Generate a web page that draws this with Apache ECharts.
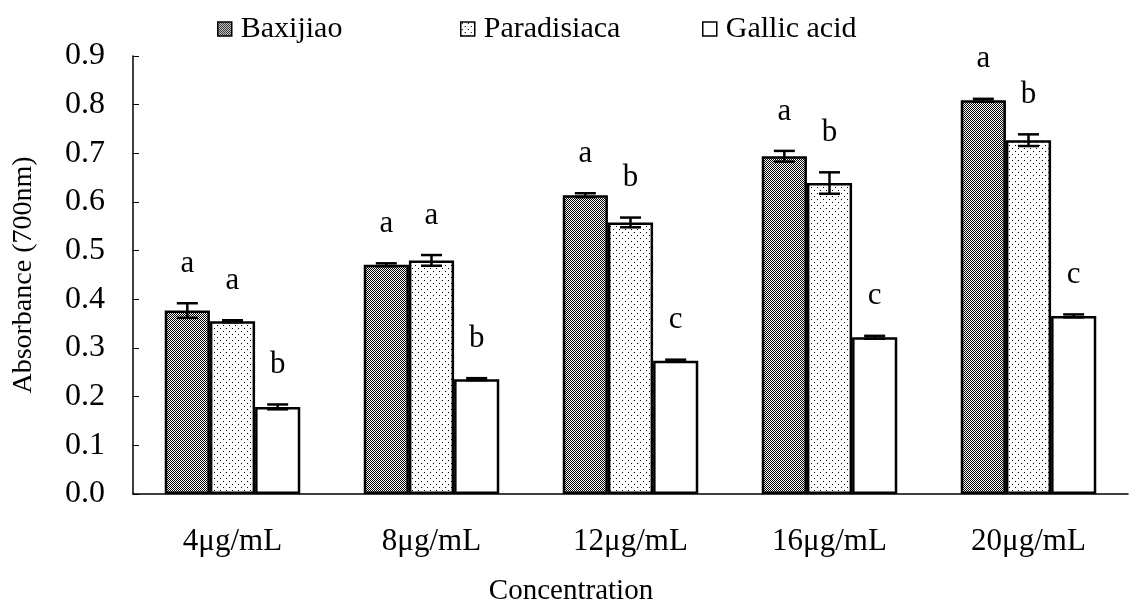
<!DOCTYPE html>
<html><head><meta charset="utf-8">
<script src="https://cdn.jsdelivr.net/npm/echarts@6/dist/echarts.min.js"></script>
<style>html,body{margin:0;padding:0;background:#fff}#c{width:1140px;height:607px}</style>
</head><body><div id="c"></div>
<script>
const categories = ['4μg/mL', '8μg/mL', '12μg/mL', '16μg/mL', '20μg/mL'];
const seriesNames = ['Baxijiao', 'Paradisiaca', 'Gallic acid'];
const baxijiao = [0.377, 0.471, 0.614, 0.694, 0.809];
const baxijiaoErr = [0.015, 0.003, 0.004, 0.011, 0.003];
const paradisiaca = [0.355, 0.480, 0.558, 0.639, 0.727];
const paradisiacaErr = [0.002, 0.011, 0.010, 0.022, 0.012];
const gallic = [0.179, 0.236, 0.274, 0.322, 0.366];
const gallicErr = [0.005, 0.002, 0.002, 0.003, 0.003];
const baxijiaoLetters = ['a', 'a', 'a', 'a', 'a'];
const paradisiacaLetters = ['a', 'a', 'b', 'b', 'b'];
const gallicLetters = ['b', 'b', 'c', 'c', 'c'];
const yTicks = [0, 0.1, 0.2, 0.3, 0.4, 0.5, 0.6, 0.7, 0.8, 0.9];

const FONT = '"Liberation Serif", "Times New Roman", serif';

function makeChecker() {
  const c = document.createElement('canvas'); c.width = 2; c.height = 2;
  const g = c.getContext('2d');
  g.fillStyle = '#fff'; g.fillRect(0, 0, 2, 2);
  g.fillStyle = '#000'; g.fillRect(0, 0, 1, 1); g.fillRect(1, 1, 1, 1);
  return c;
}
function makeDots() {
  const c = document.createElement('canvas'); c.width = 6; c.height = 6;
  const g = c.getContext('2d');
  g.fillStyle = '#fff'; g.fillRect(0, 0, 6, 6);
  g.fillStyle = '#000'; g.fillRect(1, 1, 1, 1); g.fillRect(4, 4, 1, 1);
  return c;
}
const fills = [
  { image: makeChecker(), repeat: 'repeat' },
  { image: makeDots(), repeat: 'repeat' },
  '#ffffff'
];
const values = [baxijiao, paradisiaca, gallic];
const errs = [baxijiaoErr, paradisiacaErr, gallicErr];
const letters = [baxijiaoLetters, paradisiacaLetters, gallicLetters];
const BAR_FRAC = 0.227;

const series = [];
seriesNames.forEach((name, i) => {
  series.push({
    name, type: 'bar', data: values[i], barWidth: (BAR_FRAC * 100) + '%', barGap: '0%',
    itemStyle: { color: fills[i], borderColor: '#000', borderWidth: 2.5 },
    silent: true, animation: false
  });
});
seriesNames.forEach((name, i) => {
  series.push({
    type: 'custom', silent: true, animation: false, z: 10,
    data: values[i].map((v, k) => [k, v, errs[i][k]]),
    renderItem: function (params, api) {
      const k = api.value(0), v = api.value(1), e = api.value(2);
      const band = api.size([1, 0])[0];
      const cx = api.coord([k, v])[0] + (i - 1) * band * BAR_FRAC;
      const yTop = api.coord([k, v + e])[1];
      const yBot = api.coord([k, v - e])[1];
      const cap = 10.5;
      const st = { stroke: '#000', lineWidth: 2.5 };
      return {
        type: 'group',
        children: [
          { type: 'line', shape: { x1: cx, y1: yTop, x2: cx, y2: yBot }, style: st },
          { type: 'line', shape: { x1: cx - cap, y1: yTop, x2: cx + cap, y2: yTop }, style: st },
          { type: 'line', shape: { x1: cx - cap, y1: yBot, x2: cx + cap, y2: yBot }, style: st },
          { type: 'text', x: cx, y: yTop - 24,
            style: { text: letters[i][k], font: '31px ' + FONT, fill: '#000', align: 'center', verticalAlign: 'bottom' } }
        ]
      };
    }
  });
});

const legendPos = [212, 455, 697];
const chart = echarts.init(document.getElementById('c'), null, { renderer: 'canvas' });
chart.setOption({
  animation: false,
  backgroundColor: '#fff',
  title: { text: 'Concentration', left: 566, top: 572, textAlign: 'center',
    textStyle: { fontFamily: FONT, fontSize: 29, fontWeight: 'normal', color: '#000' } },
  legend: seriesNames.map((n, i) => ({
    data: [{ name: n, icon: 'rect' }], left: legendPos[i], top: 9, itemWidth: 14, itemHeight: 14,
    selectedMode: false, itemGap: 0,
    itemStyle: { borderColor: '#000', borderWidth: 1.5 },
    textStyle: { fontFamily: FONT, fontSize: 30, color: '#000', padding: [0, 0, 0, 4] }
  })),
  grid: { left: 133, top: 56, width: 995, bottom: 113, containLabel: false },
  xAxis: {
    type: 'category', data: categories,
    axisLine: { lineStyle: { color: '#000', width: 1.5 } },
    axisTick: { inside: true, length: 6, lineStyle: { color: '#000' } },
    axisLabel: { fontFamily: FONT, fontSize: 31, color: '#000', margin: 32 }
  },
  yAxis: {
    type: 'value', min: 0, max: 0.9, interval: 0.1,
    name: 'Absorbance (700nm)', nameLocation: 'middle', nameGap: 95, nameRotate: 90,
    nameTextStyle: { fontFamily: FONT, fontSize: 28, color: '#000' },
    axisLine: { show: true, lineStyle: { color: '#000', width: 1.5 } },
    axisTick: { show: true, inside: true, length: 6, lineStyle: { color: '#000' } },
    splitLine: { show: false },
    axisLabel: { fontFamily: FONT, fontSize: 32, color: '#000', margin: 28,
      formatter: v => yTicks.includes(Math.round(v * 10) / 10) ? v.toFixed(1) : '' }
  },
  series
});
</script></body></html>
